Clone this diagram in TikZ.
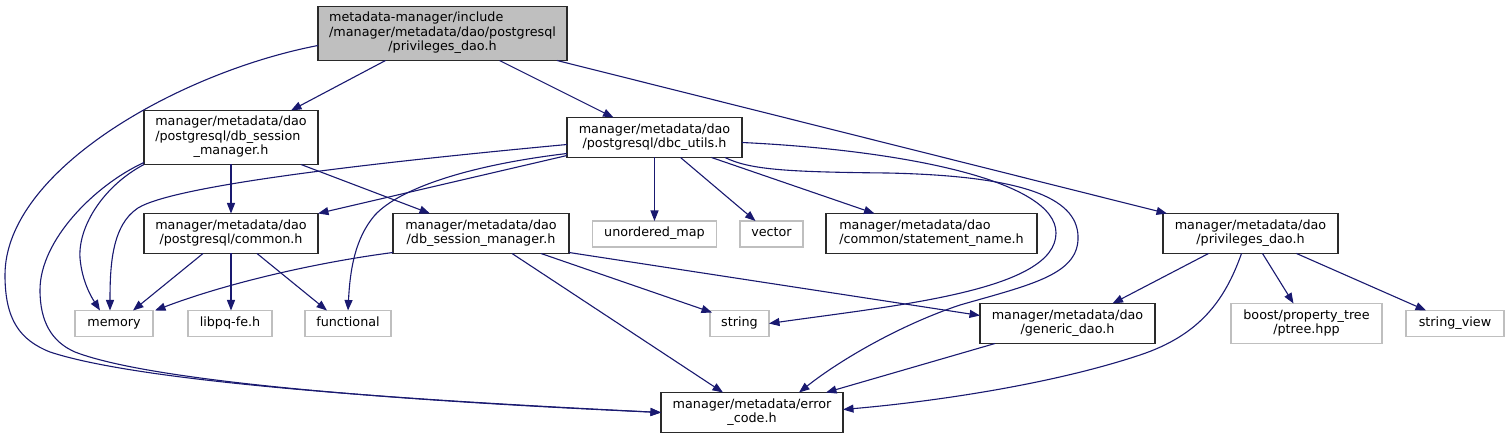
\documentclass[tikz,border=0pt]{standalone}
\usepackage{fontspec}
\setmainfont{DejaVu Sans}
\usetikzlibrary{arrows.meta,calc}
\definecolor{edgeblue}{HTML}{191970}
\definecolor{grayfill}{HTML}{BFBFBF}
\definecolor{extborder}{HTML}{BFBFBF}
\definecolor{fileborder}{HTML}{2A2A2A}
\newcommand{\Lone}[1]{\begin{tabular}{@{}c@{}}#1\end{tabular}}
\newcommand{\Ltwo}[2]{\begin{tabular}{@{}l@{}}#1\\\multicolumn{1}{@{}c@{}}{#2}\end{tabular}}
\newcommand{\Lthree}[3]{\begin{tabular}{@{}l@{}}#1\\#2\\\multicolumn{1}{@{}c@{}}{#3}\end{tabular}}
\begin{document}
\begin{tikzpicture}[x=1bp,y=-1bp,
  every node/.style={font=\fontsize{12.8}{14.6}\selectfont, inner sep=0pt, outer sep=0pt},
  filebox/.style={draw=fileborder, fill=white, line width=1.2bp, rectangle},
  extbox/.style={draw=extborder, fill=white, line width=1.2bp, rectangle},
  rootbox/.style={draw=fileborder, fill=grayfill, line width=1.2bp, rectangle},
  dep/.style={draw=edgeblue, line width=1.1bp, -{Triangle[length=10.5bp,width=8bp]}},
]
\useasboundingbox[fill=white] (0,0) rectangle (1508,439);

\node[rootbox, minimum width=249bp, minimum height=54bp] (root) at (442.5,33.5) {\Lthree{metadata-manager/include}{/manager/metadata/dao/postgresql}{/privileges\_dao.h}};
\node[filebox, minimum width=174bp, minimum height=54bp] (dsm) at (231,137.5) {\Lthree{manager/metadata/dao}{/postgresql/db\_session}{\_manager.h}};
\node[filebox, minimum width=175bp, minimum height=40bp] (dbc) at (654.5,137.5) {\Ltwo{manager/metadata/dao}{/postgresql/dbc\_utils.h}};
\node[filebox, minimum width=174bp, minimum height=40bp] (common) at (231,233.5) {\Ltwo{manager/metadata/dao}{/postgresql/common.h}};
\node[filebox, minimum width=176bp, minimum height=40bp] (dsm2) at (481,233.5) {\Ltwo{manager/metadata/dao}{/db\_session\_manager.h}};
\node[extbox, minimum width=124bp, minimum height=26bp] (umap) at (654.5,234) {\Lone{unordered\_map}};
\node[extbox, minimum width=63bp, minimum height=26bp] (vector) at (771.5,234) {\Lone{vector}};
\node[filebox, minimum width=211bp, minimum height=40bp] (stmt) at (931.5,233.5) {\Ltwo{manager/metadata/dao}{/common/statement\_name.h}};
\node[filebox, minimum width=175bp, minimum height=40bp] (priv) at (1250.5,233.5) {\Ltwo{manager/metadata/dao}{/privileges\_dao.h}};
\node[extbox, minimum width=78bp, minimum height=26bp] (memory) at (114,323.5) {\Lone{memory}};
\node[extbox, minimum width=84bp, minimum height=26bp] (libpq) at (230,323.5) {\Lone{libpq-fe.h}};
\node[extbox, minimum width=86bp, minimum height=26bp] (functional) at (348,323.5) {\Lone{functional}};
\node[extbox, minimum width=59bp, minimum height=26bp] (string) at (739.5,323.5) {\Lone{string}};
\node[filebox, minimum width=175bp, minimum height=40bp] (generic) at (1067.5,323.5) {\Ltwo{manager/metadata/dao}{/generic\_dao.h}};
\node[extbox, minimum width=151bp, minimum height=40bp] (boost) at (1306.5,323.5) {\Ltwo{boost/property\_tree}{/ptree.hpp}};
\node[extbox, minimum width=98bp, minimum height=26bp] (sview) at (1455,323.5) {\Lone{string\_view}};
\node[filebox, minimum width=182bp, minimum height=40bp] (error) at (752,412.5) {\Ltwo{manager/metadata/error}{\_code.h}};

% root
\draw[dep] ($(root.south)+(-57,0)$) -- ($(dsm.north)+(60,0)$);
\draw[dep] ($(root.south)+(57,0)$) -- ($(dbc.north)+(-41,0)$);
\draw[dep] ($(root.south east)+(-10,0)$) -- ($(priv.north west)+(4,0)$);
\draw[dep] ($(root.west)+(0,12)$) .. controls (180,72) and (5,170) .. (5,275) .. controls (5,320) and (20,340) .. (50,352) .. controls (150,385) and (450,402) .. (error.west);
% dsm
\draw[dep] ($(dsm.west)+(0,25)$) .. controls (95,185) and (40,240) .. (40,290) .. controls (40,322) and (52,342) .. (75,352) .. controls (160,385) and (450,403) .. (error.west);
\draw[dep] ($(dsm.west)+(0,27)$) .. controls (105,185) and (78,225) .. (80,258) .. controls (82,282) and (92,298) .. ($(memory.north)+(-14,0)$);
\draw[dep] (dsm.south) -- (common.north);
\draw[dep] ($(dsm.south)+(70,0)$) -- ($(dsm2.north)+(-51,0)$);
% dbc
\draw[dep] ($(dbc.west)+(0,7)$) .. controls (380,162) and (175,185) .. (138,208) .. controls (112,225) and (110,265) .. ($(memory.north)+(-4,0)$);
\draw[dep] ($(dbc.west)+(0,16)$) .. controls (470,165) and (400,188) .. (375,215) .. controls (355,238) and (350,270) .. (functional.north);
\draw[dep] ($(dbc.south west)+(0,-2)$) -- (common.north east);
\draw[dep] (dbc.south) -- (umap.north);
\draw[dep] ($(dbc.south)+(26,0)$) -- ($(vector.north)+(-16,0)$);
\draw[dep] ($(dbc.south)+(57,0)$) -- ($(stmt.north)+(-57,0)$);
\draw[dep] ($(dbc.east)+(0,5)$) .. controls (900,150) and (1056,180) .. (1056,233) .. controls (1056,290) and (900,305) .. (string.east);
\draw[dep] ($(dbc.south east)+(-17,0)$) .. controls (750,170) and (790,172) .. (887,173) .. controls (1030,176) and (1080,200) .. (1078,240) .. controls (1076,275) and (1030,285) .. (960,305) .. controls (900,325) and (840,360) .. ($(error.north)+(47,0)$);
% common
\draw[dep] ($(common.south)+(-28,0)$) -- ($(memory.north)+(19,0)$);
\draw[dep] (common.south) -- (common.south |- libpq.north);
\draw[dep] ($(common.south)+(26,0)$) -- ($(functional.north)+(-21,0)$);
% dsm2
\draw[dep] ($(dsm2.south west)+(0,-1)$) .. controls (320,262) and (230,282) .. ($(memory.north east)+(2,0)$);
\draw[dep] ($(dsm2.south)+(60,0)$) -- ($(string.north west)+(2,2)$);
\draw[dep] ($(dsm2.south east)+(0,-1)$) -- ($(generic.west)+(0,-8)$);
\draw[dep] ($(dsm2.south)+(31,0)$) -- ($(error.north)+(-29,0)$);
% priv
\draw[dep] ($(priv.south)+(-42,0)$) -- ($(generic.north)+(45,0)$);
\draw[dep] ($(priv.south)+(12,0)$) -- ($(boost.north)+(-13,0)$);
\draw[dep] ($(priv.south)+(46,0)$) -- ($(sview.north)+(-29,0)$);
\draw[dep] ($(priv.south)+(-9,0)$) .. controls (1225,300) and (1200,335) .. (1140,355) .. controls (1050,385) and (930,402) .. ($(error.east)+(0,-3)$);
% generic
\draw[dep] ($(generic.south west)+(15,0)$) -- ($(error.north east)+(-17,0)$);
\end{tikzpicture}
\end{document}
